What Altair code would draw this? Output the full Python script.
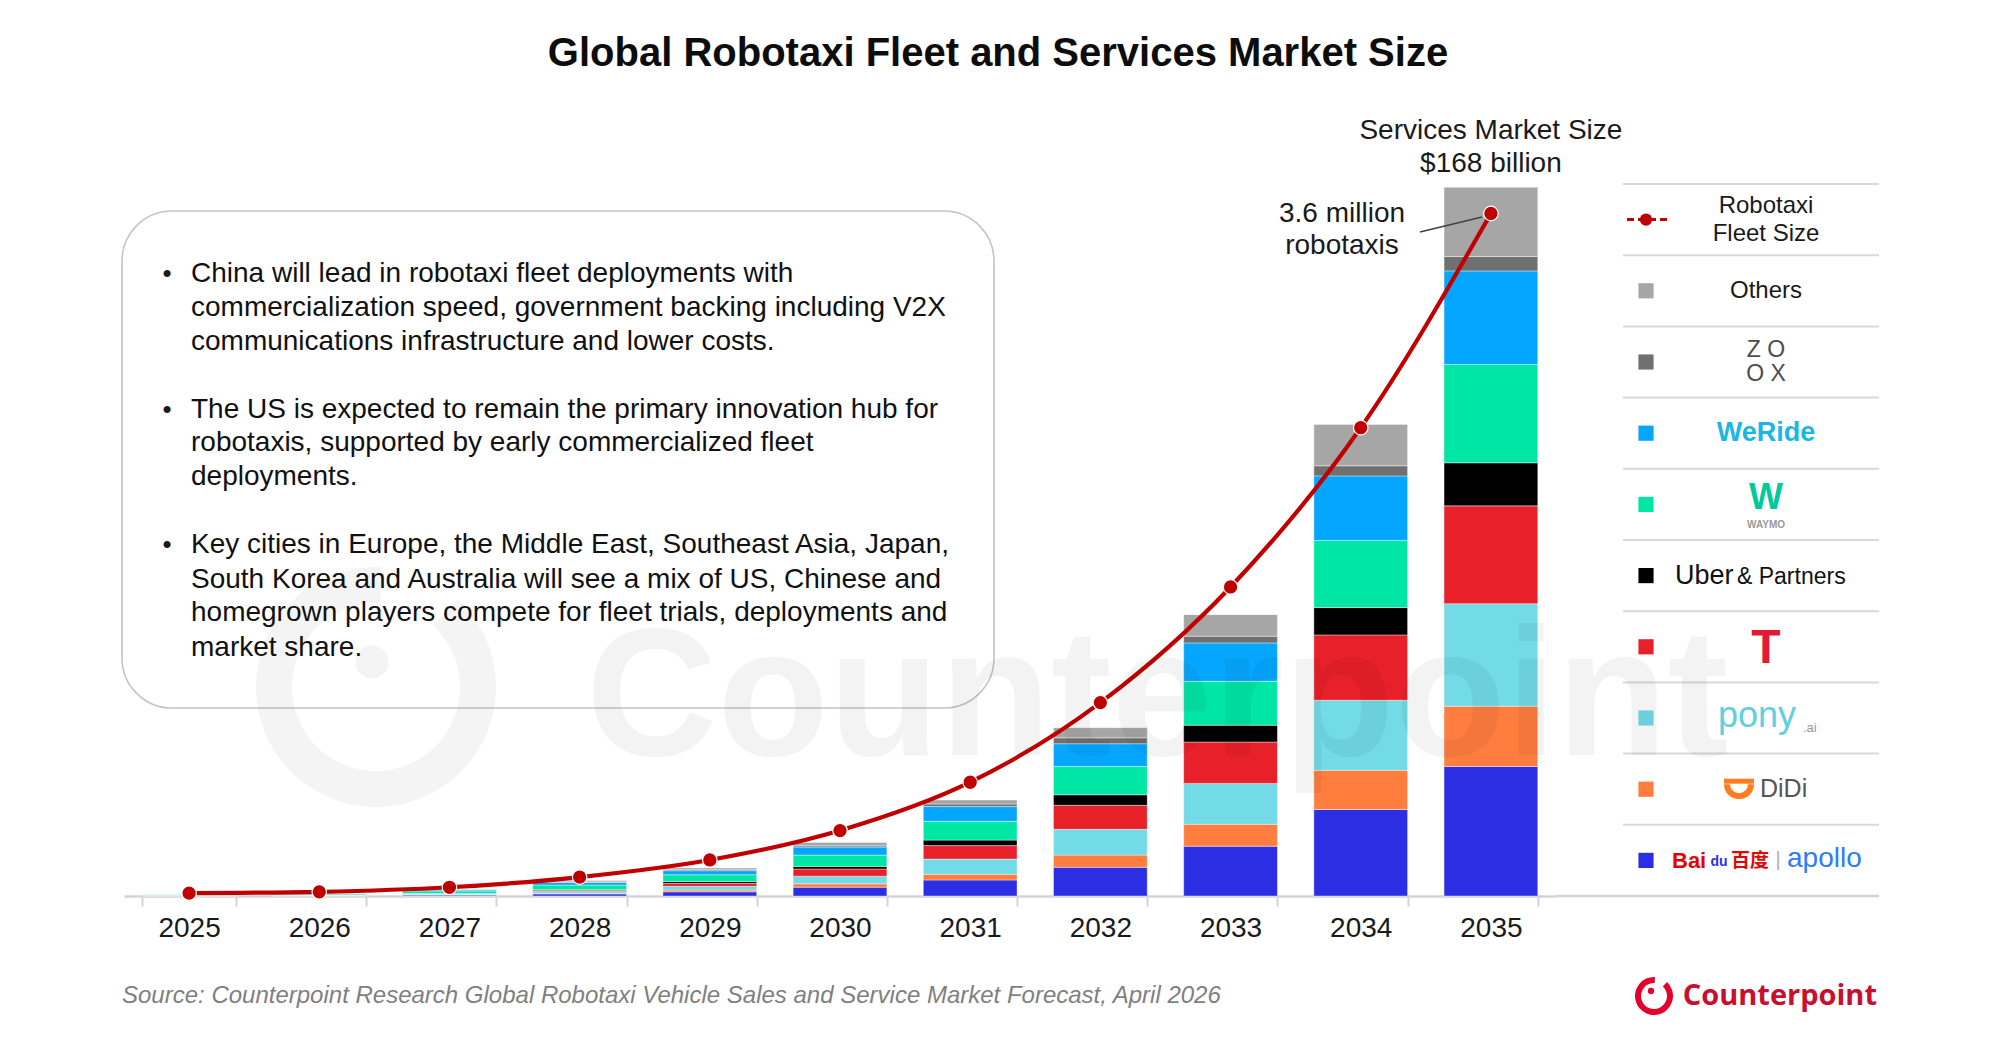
import math
import altair as alt
import pandas as pd

FONT = "Liberation Sans"

# ---------------- data ----------------
years = ["2025", "2026", "2027", "2028", "2029", "2030", "2031", "2032", "2033", "2034", "2035"]
companies = ["Baidu Apollo", "DiDi", "Pony.ai", "Tesla", "Uber & Partners", "Waymo", "WeRide", "Zoox", "Others"]
colors = ["#2B2EE3", "#FF7D3F", "#72DBE5", "#E8202A", "#000000", "#00E6A5", "#05A6FF", "#707070", "#A6A6A6"]

# services market size, US$ billion
baidu = [0.08, 0.10, 0.25, 0.50, 1.00, 2.10, 3.80, 6.80, 11.8, 20.5, 30.7]
didi = [0.01, 0.02, 0.05, 0.15, 0.40, 0.80, 1.35, 2.90, 5.20, 9.30, 14.3]
pony = [0.06, 0.08, 0.20, 0.40, 0.90, 1.80, 3.60, 6.10, 9.70, 16.6, 24.3]
tesla = [0.01, 0.02, 0.05, 0.25, 0.70, 1.70, 3.20, 5.70, 9.80, 15.5, 23.2]
uber = [0.01, 0.02, 0.05, 0.20, 0.45, 0.60, 1.30, 2.50, 4.00, 6.50, 10.2]
waymo = [0.18, 0.25, 0.60, 1.10, 1.60, 2.70, 4.45, 6.70, 10.4, 15.9, 23.3]
weride = [0.06, 0.08, 0.25, 0.60, 0.95, 1.90, 3.50, 5.40, 9.10, 15.3, 22.2]
zoox = [0.01, 0.02, 0.05, 0.15, 0.25, 0.30, 0.60, 1.40, 1.60, 2.40, 3.40]
others = [0.03, 0.03, 0.10, 0.35, 0.40, 0.80, 0.95, 2.40, 5.10, 9.80, 16.4]

# robotaxi fleet size, million vehicles
fleet = [0.015, 0.022, 0.046, 0.10, 0.19, 0.345, 0.60, 1.02, 1.63, 2.47, 3.6]

bullets = [
    ["China will lead in robotaxi fleet deployments with",
     "commercialization speed, government backing including V2X",
     "communications infrastructure and lower costs."],
    ["The US is expected to remain the primary innovation hub for",
     "robotaxis, supported by early commercialized fleet",
     "deployments."],
    ["Key cities in Europe, the Middle East, Southeast Asia, Japan,",
     "South Korea and Australia will see a mix of US, Chinese and",
     "homegrown players compete for fleet trials, deployments and",
     "market share."],
]

series = [baidu, didi, pony, tesla, uber, waymo, weride, zoox, others]
rows = []
for ci, (name, vals) in enumerate(zip(companies, series)):
    for y, v in zip(years, vals):
        rows.append({"year": y, "company": name, "value": v, "order": ci})
bars_df = pd.DataFrame(rows)
fleet_df = pd.DataFrame({"year": years, "fleet": fleet})

# ---------------- layout (plot-area pixels) ----------------
W, H = 1432, 766
BAR_MAX = 181.6
FLEET_MAX = 4.04
STEP = W / len(years)
C2035 = STEP * 10.5

x_enc = alt.X("year:N", sort=years,
              scale=alt.Scale(paddingInner=0.28, paddingOuter=0.14),
              axis=alt.Axis(title=None, labelAngle=0, labelFont=FONT, labelFontSize=28,
                            labelColor="#1a1a1a", labelPadding=8, domainColor="#d4d4d4",
                            domainWidth=2.5, tickColor="#d4d4d4", tickWidth=2, tickSize=10,
                            tickBand="extent", grid=False))

bars = alt.Chart(bars_df).mark_bar(stroke="white", strokeWidth=0.4).encode(
    x=x_enc,
    y=alt.Y("value:Q", stack="zero", scale=alt.Scale(domain=[0, BAR_MAX], nice=False), axis=None),
    color=alt.Color("company:N", scale=alt.Scale(domain=companies, range=colors), legend=None),
    order=alt.Order("order:Q", sort="ascending"),
)

fleet_y = alt.Y("fleet:Q", scale=alt.Scale(domain=[0, FLEET_MAX], nice=False), axis=None)
line = alt.Chart(fleet_df).mark_line(interpolate="monotone", color="#C00000", strokeWidth=4.2).encode(
    x=alt.X("year:N", sort=years), y=fleet_y)
pts = alt.Chart(fleet_df).mark_circle(size=210, color="#C00000", opacity=1,
                                      stroke="#ffffff", strokeWidth=1.2).encode(
    x=alt.X("year:N", sort=years), y=fleet_y)
fleet_layer = alt.layer(line, pts)


def px_x(field="px"):
    return alt.X(f"{field}:Q", scale=None, axis=None)


def px_y(field="py"):
    return alt.Y(f"{field}:Q", scale=None, axis=None)


def texts(items, **kw):
    df = pd.DataFrame(items, columns=["px", "py", "text"])
    params = dict(font=FONT, fontSize=28, color="#1a1a1a", align="center", baseline="middle")
    params.update(kw)
    return alt.Chart(df).mark_text(**params).encode(x=px_x(), y=px_y(), text="text:N")


def rules(items, **kw):
    df = pd.DataFrame(items, columns=["px", "py", "px2", "py2"])
    return alt.Chart(df).mark_rule(**kw).encode(
        x=px_x(), y=px_y(), x2="px2:Q", y2="py2:Q")


one = pd.DataFrame({"k": [0]})

# title
title = texts([(874, -76, "Global Robotaxi Fleet and Services Market Size")],
              fontSize=40, fontWeight="bold", color="#0d0d0d")

# rounded text box
box = alt.Chart(one).mark_rect(filled=False, stroke="#c4c4c4", strokeWidth=1.6, cornerRadius=50).encode(
    x=alt.value(-2), x2=alt.value(870), y=alt.value(81), y2=alt.value(578))

line_y = [[144, 178, 212], [280, 313, 347], [415, 450, 483, 518]]
b_items, l_items = [], []
for blines, ys in zip(bullets, line_y):
    b_items.append((43, ys[0], "•"))
    for t, yy in zip(blines, ys):
        l_items.append((67, yy, t))
bullet_marks = texts(b_items, fontSize=26)
bullet_text = texts(l_items, align="left", color="#111111")

# annotations
ann = texts([(C2035, 1, "Services Market Size"), (C2035, 34, "$168 billion"),
             (1218, 84, "3.6 million"), (1218, 116, "robotaxis")])
leader = rules([(1296, 102, 1358, 87)], color="#404040", strokeWidth=1.5)

# watermark (drawn on top, very faint)
wm_text = texts([(462, 625, "Counterpoint")], fontSize=182, fontWeight="bold", color="#000000",
                opacity=0.045, align="left", baseline="alphabetic")
wm_ring = alt.Chart(one).mark_arc(radius=120, radius2=84, theta=0.75, theta2=2 * math.pi + 0.05,
                                  color="#000000", opacity=0.045).encode(
    x=alt.value(252), y=alt.value(557))
wm_dot = alt.Chart(one).mark_circle(size=1100, color="#000000", opacity=0.045).encode(
    x=alt.value(248), y=alt.value(532))

# ---------------- custom legend ----------------
LEG_X0, LEG_X1 = 1499, 1755
LEG_TOP = 54
ROW_H = (H - LEG_TOP) / 10
SW_X, LAB_X = 1522, 1642
centers = [LEG_TOP + ROW_H * (i + 0.5) for i in range(10)]

seps = rules([(LEG_X0, LEG_TOP + ROW_H * k, LEG_X1, LEG_TOP + ROW_H * k) for k in range(10)],
             color="#d9d9d9", strokeWidth=2)
axis_ext = rules([(W, H, LEG_X1, H)], color="#d4d4d4", strokeWidth=2.5)

legend_order = ["Others", "Zoox", "WeRide", "Waymo", "Uber & Partners", "Tesla", "Pony.ai", "DiDi", "Baidu Apollo"]
sw_df = pd.DataFrame({
    "px": [SW_X] * 9,
    "py": centers[1:],
    "col": [colors[companies.index(c)] for c in legend_order],
})
swatches = alt.Chart(sw_df).mark_square(size=230, opacity=1).encode(
    x=px_x(), y=px_y(), color=alt.Color("col:N", scale=None))

leg_line = rules([(1503, centers[0], 1543, centers[0])], color="#C00000", strokeWidth=3, strokeDash=[7, 4])
leg_dot = alt.Chart(one).mark_circle(size=150, color="#C00000", opacity=1).encode(
    x=alt.value(SW_X), y=alt.value(centers[0]))

lab_black = texts([(LAB_X, centers[0] - 14, "Robotaxi"), (LAB_X, centers[0] + 14, "Fleet Size"),
                   (LAB_X, centers[1], "Others")], fontSize=24)
lab_zoox = texts([(LAB_X, centers[2] - 12, "Z O"), (LAB_X, centers[2] + 12, "O X")],
                 fontSize=23, color="#4d4d4d")
lab_weride = texts([(LAB_X, centers[3], "WeRide")], fontSize=27, fontWeight="bold", color="#19B6E6")
lab_waymo_w = texts([(LAB_X, centers[4] - 6, "W")], fontSize=36, fontWeight="bold", color="#00C99A")
lab_waymo = texts([(LAB_X, centers[4] + 21, "WAYMO")], fontSize=10, fontWeight="bold", color="#9a9a9a")
lab_uber = texts([(1551, centers[5], "Uber")], fontSize=27, align="left", color="#111111")
lab_partners = texts([(1613, centers[5] + 1, "& Partners")], fontSize=23, align="left", color="#111111")
lab_tesla = texts([(LAB_X, centers[6] + 2, "T")], fontSize=48, fontWeight="bold", color="#E31937")
lab_pony = texts([(1594, centers[7] - 2, "pony")], fontSize=36, align="left", color="#62CFDD")
lab_ai = texts([(1679, centers[7] + 10, ".ai")], fontSize=13, align="left", color="#9a9a9a")
didi_icon = alt.Chart(one).mark_arc(radius=15, radius2=9, theta=math.pi / 2, theta2=3 * math.pi / 2,
                                    color="#FF7D1F").encode(x=alt.value(1615), y=alt.value(centers[8] - 5))
didi_bar = rules([(1600, centers[8] - 8, 1630, centers[8] - 8)], color="#FF7D1F", strokeWidth=5)
lab_didi = texts([(1636, centers[8], "DiDi")], fontSize=25, align="left", color="#555555")
lab_bai = texts([(1548, centers[9] + 1, "Bai")], fontSize=22, fontWeight="bold", align="left", color="#E10602")
lab_du = texts([(1595, centers[9] + 2, "du")], fontSize=14, fontWeight="bold", color="#2932E1")
lab_baidu_cn = texts([(1607, centers[9] + 1, "百度")], font="Noto Sans CJK SC", fontSize=19,
                     fontWeight="bold", align="left", color="#E10602")
lab_sep = texts([(1654, centers[9], "|")], fontSize=20, color="#b0b0b0")
lab_apollo = texts([(1663, centers[9] - 1, "apollo")], fontSize=28, align="left", color="#2F7CF6")

# ---------------- footer ----------------
FOOT_Y = 866
source = texts([(-2, FOOT_Y, "Source: Counterpoint Research Global Robotaxi Vehicle Sales and Service Market Forecast, April 2026")],
               fontSize=24, fontStyle="italic", color="#7f7f7f", align="left")
logo_text = texts([(1753, FOOT_Y, "Counterpoint")], font="Open Sans", fontSize=29, fontWeight="bold",
                  color="#C8102E", align="right")
logo_ring = alt.Chart(one).mark_arc(radius=19, radius2=13, theta=0.75, theta2=2 * math.pi + 0.05,
                                    color="#E4002B").encode(x=alt.value(1530), y=alt.value(FOOT_Y))
logo_dot = alt.Chart(one).mark_circle(size=40, color="#E4002B", opacity=1).encode(
    x=alt.value(1527), y=alt.value(FOOT_Y - 5))

chart = alt.layer(
    bars, fleet_layer,
    box, bullet_marks, bullet_text,
    title, ann, leader,
    seps, axis_ext, swatches, leg_line, leg_dot,
    lab_black, lab_zoox, lab_weride, lab_waymo_w, lab_waymo, lab_uber, lab_partners,
    lab_tesla, lab_pony, lab_ai, didi_icon, didi_bar, lab_didi,
    lab_bai, lab_du, lab_baidu_cn, lab_sep, lab_apollo,
    source, logo_text, logo_ring, logo_dot,
    wm_ring, wm_dot, wm_text,
).resolve_scale(y="independent").properties(
    width=W, height=H,
    padding={"left": 116, "top": 122, "right": 433, "bottom": 141},
    autosize=alt.AutoSizeParams(type="none"),
    background="white",
).configure_view(stroke=None)

chart.save("out.html", embed_options={"renderer": "svg", "actions": False})
